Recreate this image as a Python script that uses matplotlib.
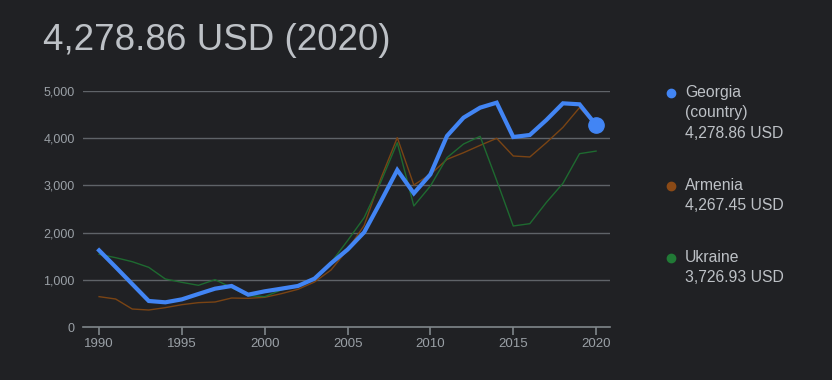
"""
GDP per capita, Georgia vs Armenia vs Ukraine (dark card style)
"""
import numpy as np
import matplotlib.pyplot as plt
import matplotlib as mpl

mpl.rcParams['font.family'] = ['Liberation Sans', 'DejaVu Sans']

# ---- data (USD) -------------------------------------------------------------
years = list(range(1990, 2021))

georgia = [1624, 1270, 910, 551, 523, 586, 700, 812, 869, 685,
           756, 812, 869, 1024, 1349, 1640, 2006, 2655, 3326, 2832,
           3234, 4047, 4435, 4647, 4753, 4025, 4068, 4386, 4739, 4718,
           4278.86]

armenia = [643, 593, 381, 360, 410, 473, 516, 530, 614, 607,
           629, 706, 798, 953, 1208, 1640, 2150, 3140, 4011, 3008,
           3234, 3552, 3693, 3849, 3997, 3623, 3602, 3905, 4230, 4647,
           4267.45]

ukraine = [1540, 1469, 1384, 1264, 1017, 946, 883, 1003, 833, 664,
           643, 784, 869, 1045, 1363, 1830, 2316, 3069, 3905, 2564,
           2987, 3588, 3877, 4040, 3104, 2140, 2189, 2640, 3044, 3672,
           3726.93]

names = ['Georgia\n(country)', 'Armenia', 'Ukraine']
last_values = ['4,278.86 USD', '4,267.45 USD', '3,726.93 USD']
title = '4,278.86 USD (2020)'

BG = '#202124'
GRID = '#5f6368'
TXT = '#9aa0a6'
LIGHT = '#bdc1c6'
C_GEO = '#4285f4'
C_ARM = '#7a4414'
C_UKR = '#1e6a30'

# ---- figure -----------------------------------------------------------------
fig = plt.figure(figsize=(8.32, 3.80), dpi=100, facecolor=BG)
ax = fig.add_axes([83 / 832, 53 / 380, 527 / 832, 236 / 380])
ax.set_facecolor(BG)

ax.plot(years, armenia, color=C_ARM, lw=1.0, zorder=3)
ax.plot(years, ukraine, color=C_UKR, lw=1.0, zorder=3)
ax.plot(years, georgia, color=C_GEO, lw=3.0, zorder=4, solid_joinstyle='miter')
ax.plot(years[-1], georgia[-1], 'o', color=C_GEO, ms=11, zorder=5)

ax.set_xlim(1989.03, 2020.84)
ax.set_ylim(0, 5000)

yt = np.arange(0, 5001, 1000)
ax.set_yticks(yt)
ax.set_yticklabels(['{:,}'.format(v) for v in yt])
ax.set_xticks(np.arange(1990, 2021, 5))

for v in yt[1:]:
    ax.axhline(v, color=GRID, lw=1.0, zorder=1)

for s in ['top', 'right', 'left']:
    ax.spines[s].set_visible(False)
ax.spines['bottom'].set_color('#80868b')
ax.spines['bottom'].set_linewidth(1.2)

ax.tick_params(axis='y', length=0, pad=6, labelcolor=TXT, labelsize=9)
ax.tick_params(axis='x', length=6, width=1.2, color='#80868b', pad=2,
               labelcolor=TXT, labelsize=9.5)

# ---- title ------------------------------------------------------------------
fig.text(43 / 832, 1 - 41 / 380, title, color=LIGHT, fontsize=26.5,
         va='center', ha='left')

# ---- legend -----------------------------------------------------------------
leg_y = [93, 186, 258]
leg_c = [C_GEO, '#8b4a16', '#217a36']
for name, val, yy, c in zip(names, last_values, leg_y, leg_c):
    fig.lines.append(mpl.lines.Line2D([671 / 832], [1 - yy / 380], marker='o',
                                      ms=6, color=c, transform=fig.transFigure))
    lines = name.split('\n') + [val]
    for i, t in enumerate(lines):
        fig.text(685 / 832, 1 - (yy + 20 * i) / 380, t, color=LIGHT,
                 fontsize=11.3, ha='left', va='center')

plt.savefig('out.png', dpi=100, facecolor=BG)
